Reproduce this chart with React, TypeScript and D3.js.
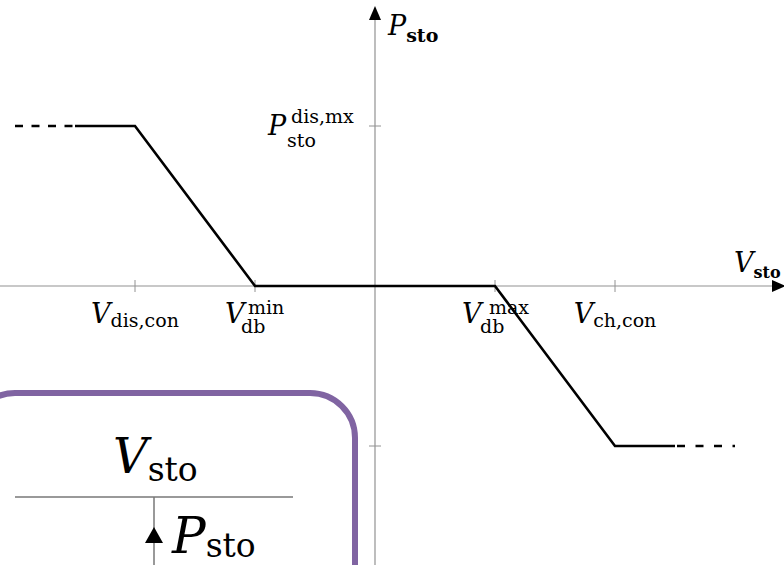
import React from "react";
import * as d3 from "d3";

// Storage power vs. storage voltage droop characteristic
const W = 784;
const H = 565;

// Piecewise-linear characteristic (V in normalised units, P in per-unit of max)
const curveSolid: [number, number][] = [
  [-2.5, 1],
  [-2, 1],
  [-1, 0],
  [1, 0],
  [2, -1],
  [2.5, -1],
];
const curveDashLeft: [number, number][] = [
  [-3, 1],
  [-2.5, 1],
];
const curveDashRight: [number, number][] = [
  [2.5, -1],
  [3, -1],
];

const xTicks = [-2, -1, 1, 2];
const yTicks = [1, -1];

const serif = "'DejaVu Serif', serif";

export default function App() {
  const x = d3.scaleLinear().domain([-3, 3]).range([15, 735]);
  const y = d3.scaleLinear().domain([-1, 1]).range([446, 126]);
  const line = d3
    .line<[number, number]>()
    .x((d) => x(d[0]))
    .y((d) => y(d[1]));

  const x0 = x(0);
  const y0 = y(0);
  const axisColor = "#929292";
  const mainSize = 27;
  const subSize = 19;

  return (
    <svg
      width={W}
      height={H}
      viewBox={`0 0 ${W} ${H}`}
      style={{ position: "absolute", left: 0, top: 0, background: "#fff", fontFamily: serif }}
    >
      {/* axes */}
      <line x1={0} x2={774} y1={y0} y2={y0} stroke={axisColor} strokeWidth={1.2} />
      <path d={`M786,${y0} L772,${y0 - 6} L772,${y0 + 6} Z`} fill="#000" />
      <line x1={x0} x2={x0} y1={H} y2={18} stroke={axisColor} strokeWidth={1.2} />
      <path d={`M${x0},6 L${x0 - 6},20 L${x0 + 6},20 Z`} fill="#000" />

      {/* ticks */}
      {xTicks.map((t) => (
        <line key={`xt${t}`} x1={x(t)} x2={x(t)} y1={y0 - 6} y2={y0 + 6} stroke={axisColor} strokeWidth={1} />
      ))}
      {yTicks.map((t) => (
        <line key={`yt${t}`} x1={x0 - 6} x2={x0 + 6} y1={y(t)} y2={y(t)} stroke={axisColor} strokeWidth={1} />
      ))}

      {/* characteristic */}
      <path d={line(curveSolid) || ""} fill="none" stroke="#000" strokeWidth={2.6} strokeLinejoin="miter" />
      <path d={line(curveDashLeft) || ""} fill="none" stroke="#000" strokeWidth={2.6} strokeDasharray="8 8.5" />
      <path d={line(curveDashRight) || ""} fill="none" stroke="#000" strokeWidth={2.6} strokeDasharray="0 2 8 8.5" />

      {/* axis titles */}
      <text x={388} y={35} fontSize={mainSize} fontFamily={serif}>
        <tspan fontStyle="italic">P</tspan>
        <tspan fontSize={subSize} fontWeight="bold" dy={7}>sto</tspan>
      </text>
      <text x={734} y={272} fontSize={mainSize} fontFamily={serif}>
        <tspan fontStyle="italic">V</tspan>
        <tspan fontSize={16} fontWeight="bold" dy={6}>sto</tspan>
      </text>

      {/* x tick labels */}
      <text x={x(-2)} y={323} fontSize={mainSize} textAnchor="middle" fontFamily={serif}>
        <tspan fontStyle="italic">V</tspan>
        <tspan fontSize={subSize} dy={4}>dis,con</tspan>
      </text>
      <text x={x(2)} y={323} fontSize={mainSize} textAnchor="middle" fontFamily={serif}>
        <tspan fontStyle="italic">V</tspan>
        <tspan fontSize={subSize} dy={4}>ch,con</tspan>
      </text>
      <text x={x(-1) - 30} y={323} fontSize={mainSize} fontFamily={serif}>
        <tspan fontStyle="italic">V</tspan>
        <tspan x={x(-1) - 7} dy={-9} fontSize={subSize}>min</tspan>
        <tspan x={x(-1) - 14} dy={19} fontSize={subSize}>db</tspan>
      </text>
      <text x={x(1) - 33} y={323} fontSize={mainSize} fontFamily={serif}>
        <tspan fontStyle="italic">V</tspan>
        <tspan x={x(1) - 6} dy={-9} fontSize={subSize}>max</tspan>
        <tspan x={x(1) - 15} dy={19} fontSize={subSize}>db</tspan>
      </text>

      {/* y tick label */}
      <text x={268} y={135} fontSize={mainSize} fontFamily={serif}>
        <tspan fontStyle="italic">P</tspan>
        <tspan x={291} dy={-12} fontSize={subSize}>dis,mx</tspan>
        <tspan x={287} dy={24} fontSize={subSize}>sto</tspan>
      </text>

      {/* inset: sign convention */}
      <rect x={-30} y={393} width={385} height={260} rx={45} ry={45} fill="#fff" stroke="#8064a2" strokeWidth={6} />
      <text x={113} y={473} fontSize={48} fontFamily={serif}>
        <tspan fontStyle="italic">V</tspan>
        <tspan fontSize={33} dy={8}>sto</tspan>
      </text>
      <line x1={15} x2={293} y1={497} y2={497} stroke="#777" strokeWidth={1.5} />
      <line x1={154} x2={154} y1={497} y2={H} stroke="#777" strokeWidth={1.5} />
      <path d="M154,527 L145,543 L163,543 Z" fill="#000" />
      <text x={172} y={553} fontSize={50} fontFamily={serif}>
        <tspan fontStyle="italic">P</tspan>
        <tspan fontSize={33} dy={4}>sto</tspan>
      </text>
    </svg>
  );
}
